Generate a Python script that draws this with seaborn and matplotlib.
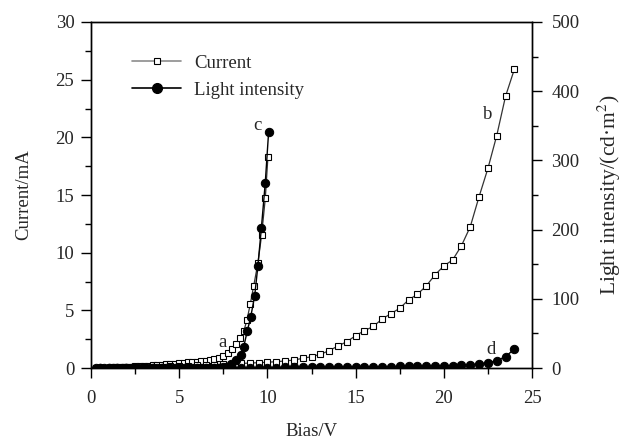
import numpy as np
import pandas as pd
import matplotlib
matplotlib.use("Agg")
import matplotlib.pyplot as plt
from matplotlib.lines import Line2D
from matplotlib.ticker import MultipleLocator
import seaborn as sns

# Curve a: current, first device (mA)
bias_a = [0.3, 0.5, 0.75, 1.0, 1.25, 1.5, 1.75, 2.0, 2.25, 2.5, 2.75, 3.0, 3.25, 3.5, 3.75,
          4.0, 4.25, 4.5, 4.75, 5.0, 5.25, 5.5, 5.75, 6.0, 6.25, 6.5, 6.75, 7.0, 7.25,
          7.48, 7.75, 8.01, 8.24, 8.47, 8.67, 8.84, 9.03, 9.22, 9.46, 9.67, 9.88, 10.03]
current_a = [0.01, 0.02, 0.03, 0.04, 0.05, 0.06, 0.08, 0.1, 0.12, 0.14, 0.16, 0.18, 0.2, 0.22, 0.25,
             0.28, 0.31, 0.34, 0.37, 0.4, 0.44, 0.48, 0.52, 0.56, 0.6, 0.65, 0.72, 0.8, 0.9,
             1.04, 1.27, 1.65, 2.05, 2.63, 3.24, 4.16, 5.55, 7.1, 9.08, 11.5, 14.7, 18.3]

# Curve c: light intensity, first device (cd/m2)
bias_c = [0.3, 0.5, 0.75, 1.0, 1.25, 1.5, 1.75, 2.0, 2.25, 2.5, 2.75, 3.0, 3.25, 3.5, 3.75,
          4.0, 4.25, 4.5, 4.75, 5.0, 5.25, 5.5, 5.75, 6.0, 6.25, 6.5, 6.75, 7.0, 7.25,
          7.5, 7.68, 7.96, 8.24, 8.48, 8.65, 8.86, 9.05, 9.28, 9.46, 9.66, 9.88, 10.07]
light_c = [0, 0, 0, 0, 0, 0, 0, 0, 0, 0, 0, 0, 0, 0, 0,
           0, 0, 0, 0, 0, 0, 0, 0, 0, 0, 0, 0, 0.2, 0.5,
           1.0, 1.9, 5.8, 11.6, 18.8, 29.9, 53.5, 73.3, 104.5, 147.4, 202.7, 268.0, 341.5]

# Curve b: current, second device (mA)
bias_b = [0.5, 1.0, 1.5, 2.0, 2.5, 3.0, 3.5, 4.0, 4.5, 5.0, 5.5, 6.0, 6.5, 7.0, 7.5, 8.0,
          8.5, 9.0, 9.5, 10.0, 10.5, 11.0, 11.5, 12.0, 12.5, 13.0, 13.5, 14.0, 14.5, 15.0,
          15.5, 16.0, 16.5, 17.0, 17.5, 18.0, 18.5, 19.0, 19.5, 20.0, 20.5, 21.0, 21.5,
          22.0, 22.5, 23.0, 23.5, 24.0]
current_b = [0.02, 0.03, 0.04, 0.05, 0.06, 0.08, 0.1, 0.12, 0.15, 0.18, 0.21, 0.24, 0.27,
             0.3, 0.33, 0.36, 0.4, 0.43, 0.46, 0.5, 0.55, 0.61, 0.69, 0.84, 0.98, 1.19, 1.5,
             1.91, 2.28, 2.8, 3.24, 3.6, 4.25, 4.71, 5.18, 5.9, 6.39, 7.11, 8.07, 8.85, 9.37,
             10.6, 12.25, 14.86, 17.3, 20.15, 23.56, 25.9]

# Curve d: light intensity, second device (cd/m2)
bias_d = bias_b
light_d = [0, 0, 0, 0, 0, 0, 0, 0, 0, 0, 0, 0, 0, 0.1, 0.2, 0.25,
           0.3, 0.4, 0.5, 0.6, 0.7, 0.8, 0.9, 1.0, 1.1, 1.2, 1.3, 1.4, 1.5, 1.6,
           1.7, 1.8, 1.9, 2.0, 2.2, 2.4, 2.6, 2.8, 3.0, 3.3, 3.6, 4.1, 4.8,
           5.8, 7.7, 10.6, 16.4, 27.5]

curve_labels = ["a", "b", "c", "d"]

sns.set_style("ticks")
plt.rcParams["font.family"] = ["Liberation Serif", "DejaVu Serif"]
plt.rcParams["mathtext.fontset"] = "stix"

fig = plt.figure(figsize=(6.25, 4.4), dpi=100)
ax = fig.add_axes([0.1456, 0.1636, 0.7056, 0.7864])
ax2 = ax.twinx()

sq = dict(marker="s", markersize=5, markerfacecolor="white", markeredgecolor="black",
          markeredgewidth=0.8, color="0.2", linewidth=0.9)
ci = dict(marker="o", markersize=6, markerfacecolor="black", markeredgecolor="black",
          color="black", linewidth=1.0)

df_a = pd.DataFrame({"x": bias_a, "y": current_a})
df_b = pd.DataFrame({"x": bias_b, "y": current_b})
df_c = pd.DataFrame({"x": bias_c, "y": light_c})
df_d = pd.DataFrame({"x": bias_d, "y": light_d})

sns.lineplot(data=df_a, x="x", y="y", ax=ax, sort=False, estimator=None, **sq)
sns.lineplot(data=df_b, x="x", y="y", ax=ax, sort=False, estimator=None, **sq)
sns.lineplot(data=df_c, x="x", y="y", ax=ax2, sort=False, estimator=None, **ci)
sns.lineplot(data=df_d, x="x", y="y", ax=ax2, sort=False, estimator=None, **ci)

ax.set_xlim(0, 25)
ax.set_ylim(0, 30)
ax2.set_ylim(0, 500)
ax.xaxis.set_major_locator(MultipleLocator(5))
ax.xaxis.set_minor_locator(MultipleLocator(2.5))
ax.yaxis.set_major_locator(MultipleLocator(5))
ax.yaxis.set_minor_locator(MultipleLocator(2.5))
ax2.yaxis.set_major_locator(MultipleLocator(100))
ax2.yaxis.set_minor_locator(MultipleLocator(50))

fs = 13.5
for a in (ax, ax2):
    a.tick_params(which="major", direction="out", length=7, width=1.0, labelsize=fs, color="black")
    a.tick_params(which="minor", direction="out", length=4, width=1.0, color="black")
    for s in a.spines.values():
        s.set_visible(True)
        s.set_linewidth(1.0)
        s.set_color("black")
ax.tick_params(axis="x", which="major", pad=9)
ax.tick_params(axis="y", which="major", pad=5)
ax2.tick_params(axis="y", which="major", pad=7)

ax.set_xlabel("Bias/V", fontsize=fs, labelpad=11)
ax.set_ylabel("Current/mA", fontsize=fs, labelpad=17)
ax2.set_ylabel("Light intensity/(cd·m$^2$)", fontsize=15.5, labelpad=12)

# curve labels
label_pos = [(7.45, 2.2), (22.5, 22.0), (9.45, 21.0), (22.7, 1.6)]
for lab, (lx, ly) in zip(curve_labels, label_pos):
    ax.text(lx, ly, lab, fontsize=fs, ha="center", va="center")

handles = [
    Line2D([], [], marker="s", markersize=5, markerfacecolor="white", markeredgecolor="black",
           markeredgewidth=0.8, color="0.55", linewidth=1.2),
    Line2D([], [], marker="o", markersize=7, markerfacecolor="black", markeredgecolor="black",
           color="black", linewidth=1.2),
]
ax.legend(handles, ["Current", "Light intensity"], loc="upper left",
          bbox_to_anchor=(0.055, 0.955), frameon=False, fontsize=fs, handlelength=2.6,
          handletextpad=0.7, labelspacing=0.55)

fig.savefig("out.png", dpi=100)
